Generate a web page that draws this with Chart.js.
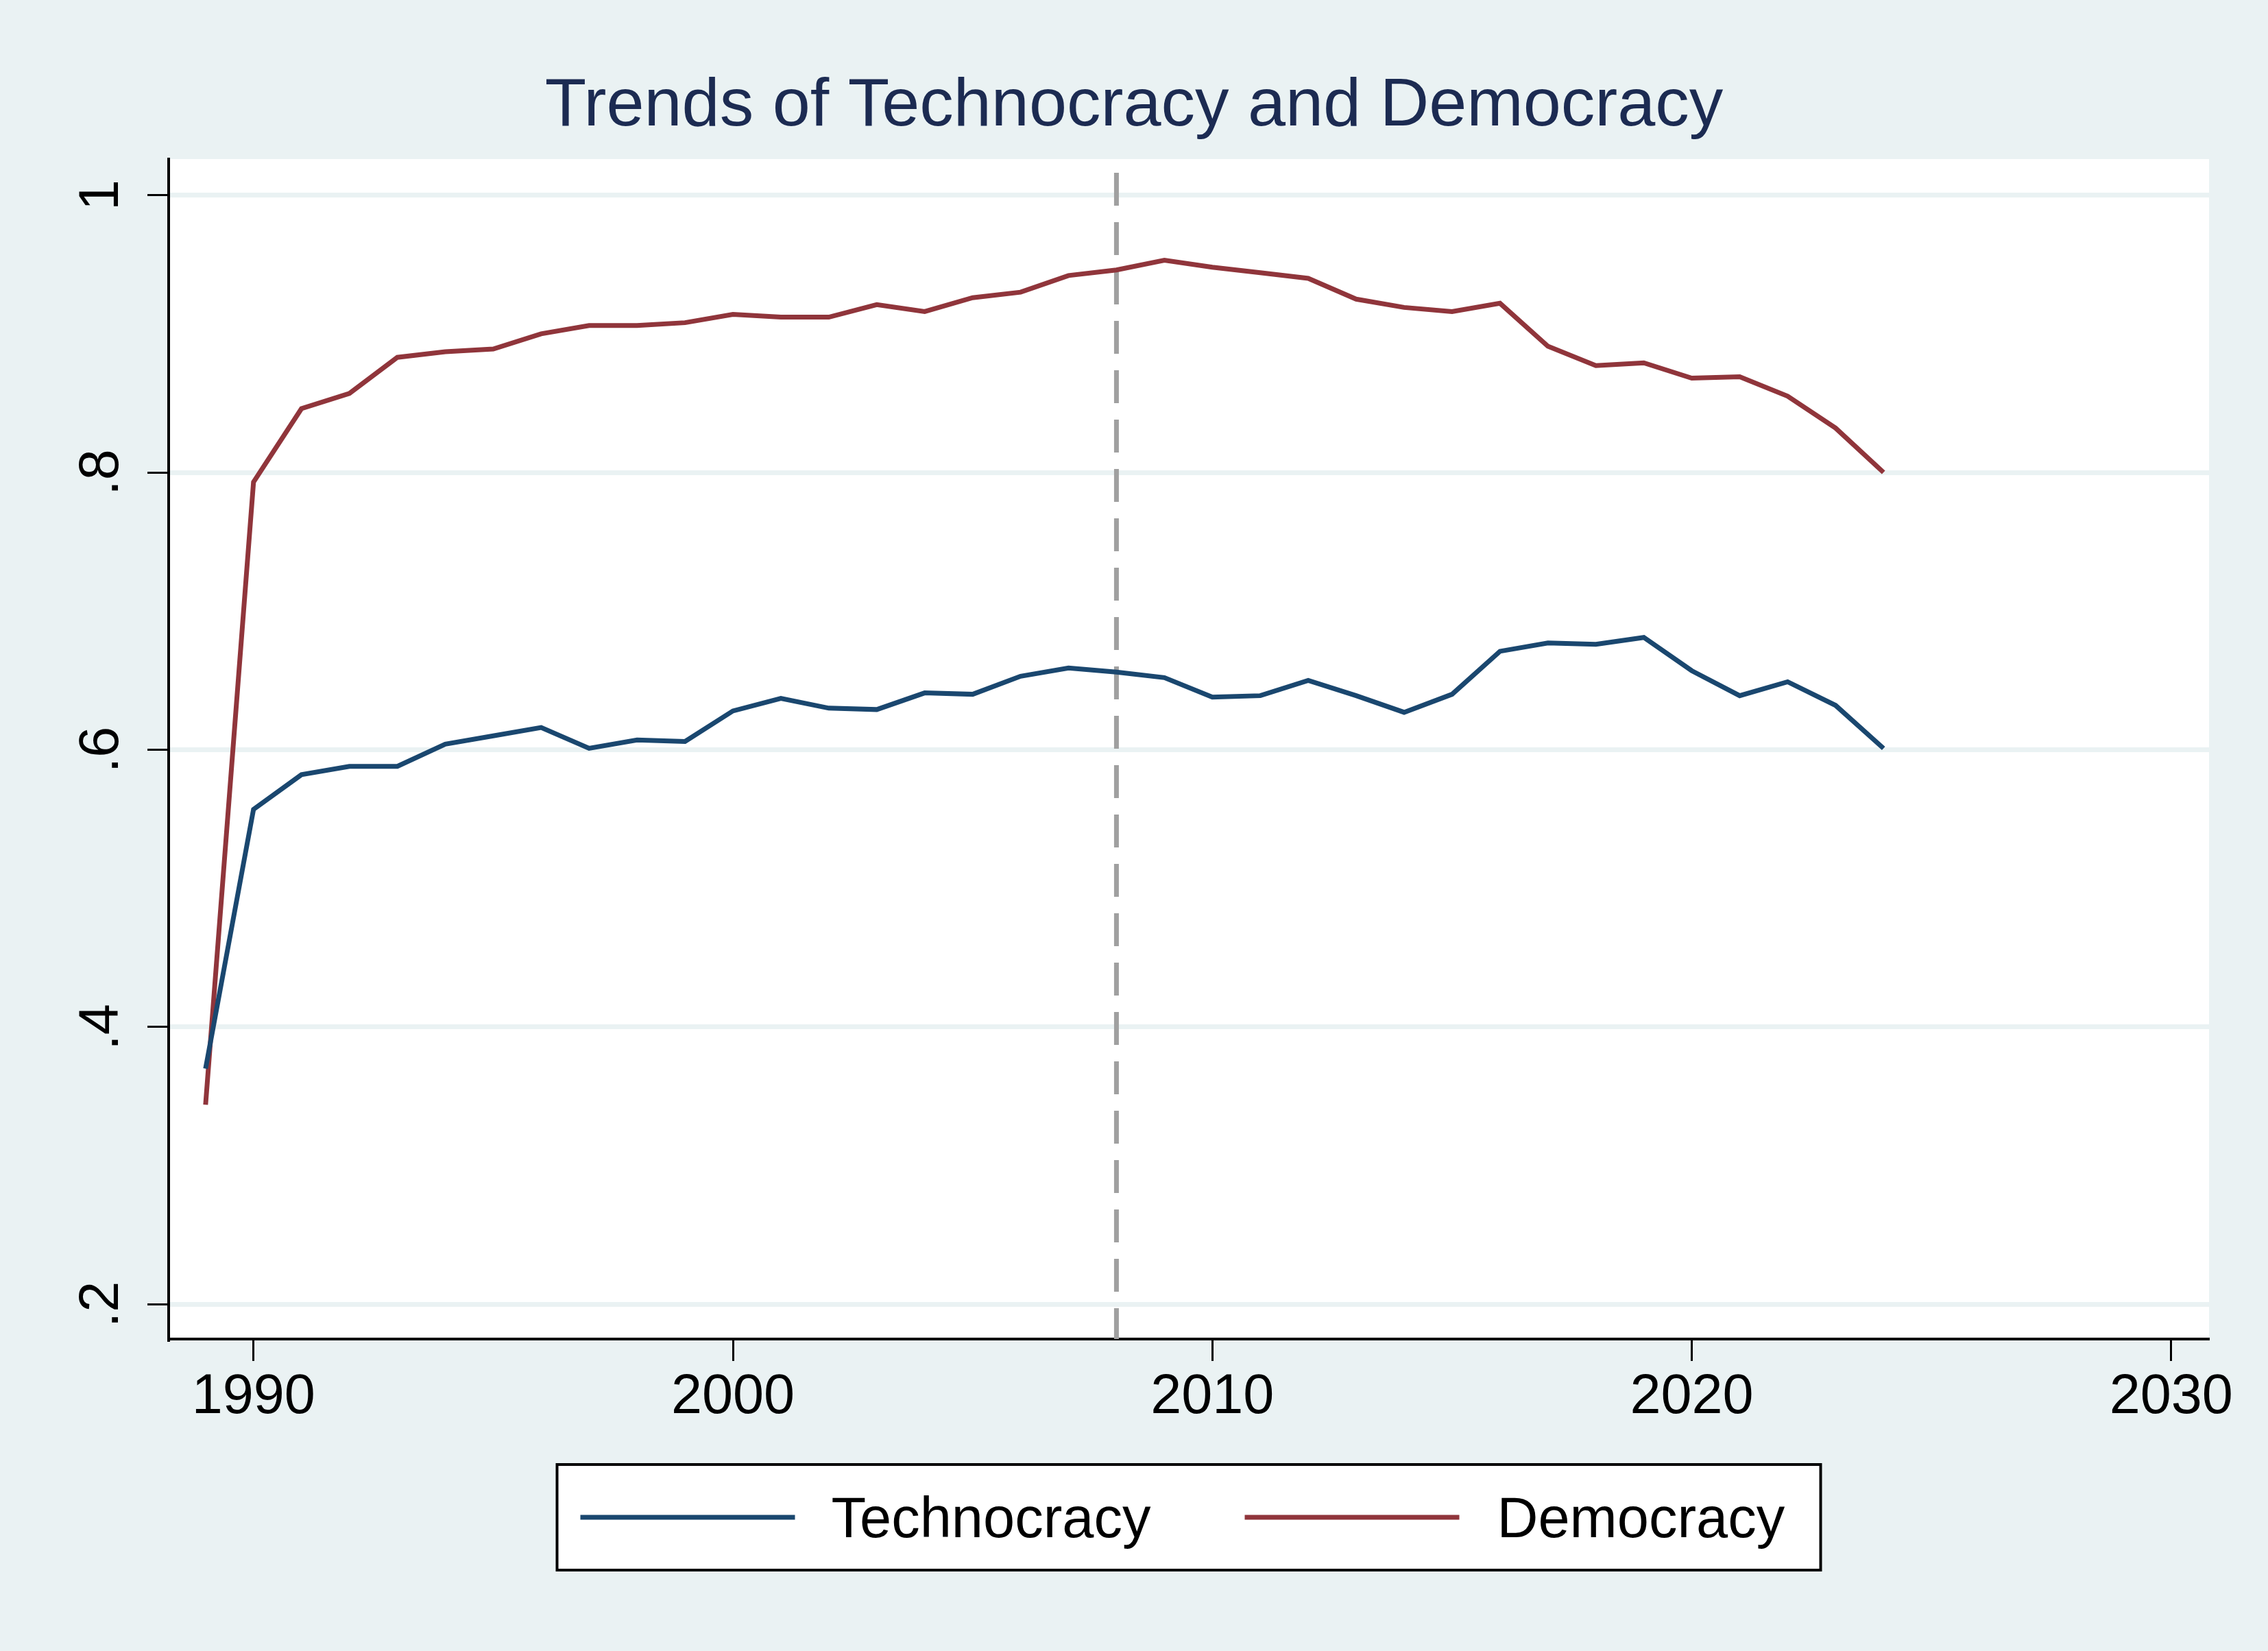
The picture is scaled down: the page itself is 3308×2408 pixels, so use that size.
<!DOCTYPE html>
<html>
<head>
<meta charset="utf-8">
<title>Trends of Technocracy and Democracy</title>
<script src="https://cdn.jsdelivr.net/npm/chart.js@4.4.1/dist/chart.umd.min.js"></script>
<style>
  html, body { margin: 0; padding: 0; background: #eaf2f3; }
  canvas { display: block; }
</style>
</head>
<body>
<canvas id="trendChart" width="3308" height="2408"></canvas>
<script>
// chart data
const years = [1989, 1990, 1991, 1992, 1993, 1994, 1995, 1996, 1997, 1998, 1999,
  2000, 2001, 2002, 2003, 2004, 2005, 2006, 2007, 2008, 2009,
  2010, 2011, 2012, 2013, 2014, 2015, 2016, 2017, 2018, 2019,
  2020, 2021, 2022, 2023, 2024];
const technocracy = [0.370, 0.557, 0.582, 0.588, 0.588, 0.604, 0.610, 0.616, 0.601, 0.607, 0.606,
  0.628, 0.637, 0.630, 0.629, 0.641, 0.640, 0.653, 0.659, 0.656, 0.652,
  0.638, 0.639, 0.650, 0.639, 0.627, 0.640, 0.671, 0.677, 0.676, 0.681,
  0.657, 0.639, 0.649, 0.632, 0.601];
const democracy = [0.344, 0.793, 0.846, 0.857, 0.883, 0.887, 0.889, 0.900, 0.906, 0.906, 0.908,
  0.914, 0.912, 0.912, 0.921, 0.916, 0.926, 0.930, 0.942, 0.946, 0.953,
  0.948, 0.944, 0.940, 0.925, 0.919, 0.916, 0.922, 0.891, 0.877, 0.879,
  0.868, 0.869, 0.855, 0.832, 0.800];
const xTicks = [1990, 2000, 2010, 2020, 2030];
const yTicks = [0.2, 0.4, 0.6, 0.8, 1.0];
const yTickLabels = ['.2', '.4', '.6', '.8', '1'];
const markerYear = 2008;
const chartTitle = 'Trends of Technocracy and Democracy';

const FONT = '"Liberation Sans", Arial, Helvetica, sans-serif';
const BG = '#eaf2f3';
const NAVY = '#1a476f';
const MAROON = '#90353b';

// page background + white plot region
const backgroundPlugin = {
    id: 'stataBackground',
    beforeDraw(chart) {
        const { ctx, chartArea: a } = chart;
        ctx.save();
        ctx.fillStyle = BG;
        ctx.fillRect(0, 0, chart.width, chart.height);
        ctx.fillStyle = '#ffffff';
        ctx.fillRect(a.left, a.top, a.right - a.left, a.bottom - a.top);
        ctx.restore();
    }
};

// dashed reference line at markerYear
const markerPlugin = {
    id: 'markerLine',
    beforeDatasetsDraw(chart) {
        const { ctx, chartArea: a } = chart;
        const x = chart.scales.x.getPixelForValue(markerYear);
        ctx.save();
        ctx.strokeStyle = '#a0a0a0';
        ctx.lineWidth = 7;
        ctx.setLineDash([48, 24]);
        ctx.lineDashOffset = 52;
        ctx.beginPath();
        ctx.moveTo(x, a.top);
        ctx.lineTo(x, a.bottom);
        ctx.stroke();
        ctx.restore();
    }
};

// title, rotated y labels and boxed legend (Stata look)
const decorPlugin = {
    id: 'stataDecor',
    afterDraw(chart) {
        const { ctx, chartArea: a } = chart;
        const yScale = chart.scales.y;
        ctx.save();

        // title
        ctx.fillStyle = '#1c2b52';
        ctx.font = '99px ' + FONT;
        ctx.textAlign = 'center';
        ctx.textBaseline = 'alphabetic';
        ctx.fillText(chartTitle, chart.width / 2, 183);

        // y tick labels, rotated
        ctx.fillStyle = '#000000';
        ctx.font = '81px ' + FONT;
        yTicks.forEach((v, i) => {
            const y = yScale.getPixelForValue(v);
            ctx.save();
            ctx.translate(a.left - 74, y);
            ctx.rotate(-Math.PI / 2);
            ctx.textAlign = 'center';
            ctx.fillText(yTickLabels[i], 0, 0);
            ctx.restore();
        });

        // legend
        const boxW = 1843, boxH = 154;
        const cx = (a.left + a.right) / 2;
        const left = cx - boxW / 2;
        const top = a.bottom + 183;
        ctx.fillStyle = '#ffffff';
        ctx.fillRect(left, top, boxW, boxH);
        ctx.strokeStyle = '#000000';
        ctx.lineWidth = 4;
        ctx.strokeRect(left, top, boxW, boxH);

        const items = [
            { ds: chart.data.datasets[0], lineX: 34, textX: 400 },
            { ds: chart.data.datasets[1], lineX: 1003, textX: 1371 }
        ];
        ctx.font = '83px ' + FONT;
        ctx.textAlign = 'left';
        items.forEach(it => {
            ctx.strokeStyle = it.ds.borderColor;
            ctx.lineWidth = 7;
            ctx.beginPath();
            ctx.moveTo(left + it.lineX, top + 77);
            ctx.lineTo(left + it.lineX + 313, top + 77);
            ctx.stroke();
            ctx.fillStyle = '#000000';
            ctx.fillText(it.ds.label, left + it.textX, top + 106);
        });
        ctx.restore();
    }
};

const ctx = document.getElementById('trendChart').getContext('2d');
new Chart(ctx, {
    type: 'line',
    data: {
        datasets: [
            {
                label: 'Technocracy',
                data: years.map((yr, i) => ({ x: yr, y: technocracy[i] })),
                borderColor: NAVY,
                borderWidth: 7,
                pointRadius: 0,
                tension: 0
            },
            {
                label: 'Democracy',
                data: years.map((yr, i) => ({ x: yr, y: democracy[i] })),
                borderColor: MAROON,
                borderWidth: 7,
                pointRadius: 0,
                tension: 0
            }
        ]
    },
    options: {
        responsive: false,
        animation: false,
        devicePixelRatio: 1,
        layout: { padding: { top: 232, left: 0, right: 86, bottom: 305 } },
        plugins: {
            legend: { display: false },
            title: { display: false },
            tooltip: { enabled: false }
        },
        scales: {
            x: {
                type: 'linear',
                min: 1988.23,
                max: 2030.79,
                afterBuildTicks: scale => { scale.ticks = xTicks.map(v => ({ value: v })); },
                afterFit: scale => { scale.height = 150; },
                grid: {
                    drawOnChartArea: false,
                    drawTicks: true,
                    tickLength: 32,
                    tickWidth: 3,
                    tickColor: '#000000'
                },
                border: { display: true, color: '#000000', width: 4 },
                ticks: {
                    color: '#000000',
                    font: { family: FONT, size: 81 },
                    padding: 5,
                    maxRotation: 0,
                    autoSkip: false,
                    callback: v => String(v)
                }
            },
            y: {
                min: 0.175,
                max: 1.026,
                afterBuildTicks: scale => { scale.ticks = yTicks.map(v => ({ value: v })); },
                afterFit: scale => { scale.width = 246; },
                grid: {
                    color: BG,
                    lineWidth: 7,
                    drawTicks: true,
                    tickLength: 31,
                    tickWidth: 3,
                    tickColor: '#000000'
                },
                border: { display: true, color: '#000000', width: 4 },
                ticks: { display: false }
            }
        }
    },
    plugins: [backgroundPlugin, markerPlugin, decorPlugin]
});
</script>
</body>
</html>
